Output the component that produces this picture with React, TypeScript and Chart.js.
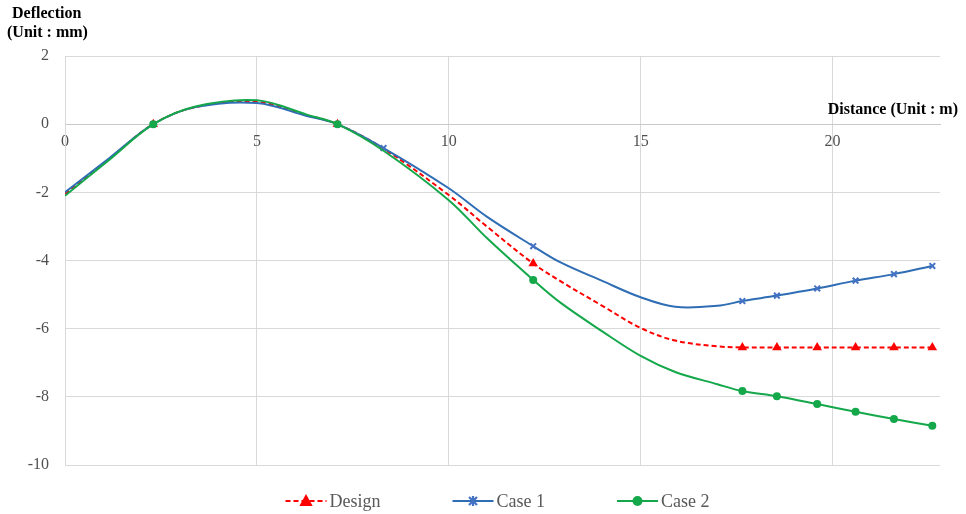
import React, { useEffect, useRef } from "react";
import { Chart, registerables } from "chart.js";

Chart.register(...registerables);

// Distance along the member (m)
const distance = [0, 1.15, 2.3, 3.4, 5.0, 6.3, 7.1, 8.3, 10.0, 11.0, 12.2, 12.9, 14.0, 15.0, 15.9, 17.0, 17.65, 18.55, 19.6, 20.6, 21.6, 22.6];

// Deflection (mm)
const design = [-2.05, -1.02, 0, 0.5, 0.65, 0.26, 0, -0.72, -2.08, -3.01, -4.09, -4.6, -5.33, -5.98, -6.35, -6.52, -6.55, -6.55, -6.55, -6.55, -6.55, -6.55];
const case1 = [-2.0, -1.0, 0, 0.5, 0.62, 0.24, 0, -0.7, -1.88, -2.72, -3.58, -4.05, -4.6, -5.08, -5.36, -5.33, -5.19, -5.03, -4.82, -4.59, -4.4, -4.16];
const case2 = [-2.1, -1.05, 0, 0.52, 0.7, 0.28, 0, -0.78, -2.23, -3.35, -4.57, -5.23, -6.08, -6.8, -7.27, -7.63, -7.83, -7.98, -8.21, -8.44, -8.65, -8.85];

// Distances where a marker is shown
const designMarkers = [2.3, 7.1, 12.2, 17.65, 18.55, 19.6, 20.6, 21.6, 22.6];
const case1Markers = [2.3, 7.1, 8.3, 12.2, 17.65, 18.55, 19.6, 20.6, 21.6, 22.6];
const case2Markers = [2.3, 7.1, 12.2, 17.65, 18.55, 19.6, 20.6, 21.6, 22.6];

const xTicks = [0, 5, 10, 15, 20];
const yTicks = [2, 0, -2, -4, -6, -8, -10];

const seriesNames = ["Design", "Case 1", "Case 2"];

const SERIF = '"Liberation Serif", "Times New Roman", serif';
const RED = "#FF0000";
const BLUE_LINE = "#2F6DB5";
const BLUE_MARK = "#4472C4";
const GREEN = "#14A84B";
const TICK_COLOR = "#505050";

const toPoints = (ys: number[]) => distance.map((x, i) => ({ x, y: ys[i] }));
const radii = (marks: number[], r: number) => distance.map((x) => (marks.includes(x) ? r : 0));

type Marker = "triangle" | "star" | "circle";

function drawMarker(ctx: CanvasRenderingContext2D, style: Marker, x: number, y: number, r: number, color: string) {
  ctx.save();
  ctx.fillStyle = color;
  ctx.strokeStyle = color;
  ctx.setLineDash([]);
  if (style === "triangle") {
    ctx.beginPath();
    ctx.moveTo(x, y - r);
    ctx.lineTo(x + r * 0.95, y + r * 0.7);
    ctx.lineTo(x - r * 0.95, y + r * 0.7);
    ctx.closePath();
    ctx.fill();
  } else if (style === "circle") {
    ctx.beginPath();
    ctx.arc(x, y, r, 0, Math.PI * 2);
    ctx.fill();
  } else {
    ctx.lineWidth = 2.2;
    const d = r * 0.8;
    ctx.beginPath();
    ctx.moveTo(x - d, y - d);
    ctx.lineTo(x + d, y + d);
    ctx.moveTo(x + d, y - d);
    ctx.lineTo(x - d, y + d);
    ctx.moveTo(x, y - r);
    ctx.lineTo(x, y + r);
    ctx.stroke();
  }
  ctx.restore();
}

const legendItems: { name: string; color: string; mark: string; marker: Marker; dash: number[]; r: number }[] = [
  { name: seriesNames[0], color: RED, mark: RED, marker: "triangle", dash: [5, 3], r: 7 },
  { name: seriesNames[1], color: BLUE_LINE, mark: BLUE_MARK, marker: "star", dash: [], r: 5 },
  { name: seriesNames[2], color: GREEN, mark: GREEN, marker: "circle", dash: [], r: 5 },
];

const decorations = {
  id: "decorations",
  afterDraw(chart: Chart) {
    const { ctx, chartArea } = chart;
    ctx.save();
    // Axis titles
    ctx.fillStyle = "#000000";
    ctx.textBaseline = "alphabetic";
    ctx.textAlign = "left";
    ctx.font = `bold 16px ${SERIF}`;
    ctx.fillText("Deflection", 12, 18);
    ctx.fillText("(Unit : mm)", 7, 37);
    ctx.textAlign = "right";
    ctx.fillText("Distance (Unit : m)", chart.width - 8, 114);

    // Legend below the plot
    ctx.font = `18px ${SERIF}`;
    ctx.textAlign = "left";
    const lineLen = 41;
    const gapText = 3;
    const gapItem = 72;
    const widths = legendItems.map((it) => lineLen + gapText + ctx.measureText(it.name).width);
    const total = widths.reduce((a, b) => a + b, 0) + gapItem * (legendItems.length - 1);
    let x = (chartArea.left + chartArea.right) / 2 - total / 2 - 5;
    const cy = 501;
    legendItems.forEach((it, i) => {
      ctx.strokeStyle = it.color;
      ctx.lineWidth = 2;
      ctx.setLineDash(it.dash);
      ctx.beginPath();
      ctx.moveTo(x, cy);
      ctx.lineTo(x + lineLen, cy);
      ctx.stroke();
      ctx.setLineDash([]);
      drawMarker(ctx, it.marker, x + lineLen / 2, cy, it.r, it.mark);
      ctx.fillStyle = "#595959";
      ctx.fillText(it.name, x + lineLen + gapText, 507);
      x += widths[i] + gapItem;
    });
    ctx.restore();
  },
};

export default function App() {
  const canvasRef = useRef<HTMLCanvasElement | null>(null);

  useEffect(() => {
    document.body.style.margin = "0";
    const canvas = canvasRef.current;
    if (!canvas) return;

    const chart = new Chart(canvas, {
      type: "line",
      data: {
        datasets: [
          {
            label: seriesNames[2],
            data: toPoints(case2),
            borderColor: GREEN,
            backgroundColor: GREEN,
            borderWidth: 2,
            pointStyle: "circle",
            pointRadius: radii(case2Markers, 4),
            pointBorderWidth: 0,
            order: 0,
          },
          {
            label: seriesNames[1],
            data: toPoints(case1),
            borderColor: BLUE_LINE,
            backgroundColor: BLUE_MARK,
            pointBorderColor: BLUE_MARK,
            borderWidth: 2,
            pointStyle: "crossRot",
            pointRadius: radii(case1Markers, 4),
            pointBorderWidth: 2,
            order: 1,
          },
          {
            label: seriesNames[0],
            data: toPoints(design),
            borderColor: RED,
            backgroundColor: RED,
            borderWidth: 2,
            borderDash: [5, 3],
            pointStyle: "triangle",
            pointRadius: radii(designMarkers, 5.5),
            pointBorderWidth: 0,
            order: 2,
          },
        ],
      },
      options: {
        responsive: false,
        animation: false,
        layout: { padding: { left: 0, right: 26, top: 56, bottom: 49 } },
        elements: { line: { tension: 0.35, fill: false } },
        plugins: { legend: { display: false }, tooltip: { enabled: false } },
        scales: {
          x: {
            type: "linear",
            position: { y: 0 } as any,
            min: 0,
            max: 22.8,
            afterBuildTicks: (s: any) => {
              s.ticks = xTicks.map((v) => ({ value: v }));
            },
            ticks: {
              color: TICK_COLOR,
              font: { family: SERIF, size: 16 },
              padding: 8,
              maxRotation: 0,
            },
            grid: { color: "#D9D9D9", lineWidth: 1, drawTicks: false },
            border: { display: true, color: "#C9C9C9", width: 1 },
          },
          y: {
            type: "linear",
            min: -10,
            max: 2,
            afterBuildTicks: (s: any) => {
              s.ticks = yTicks.map((v) => ({ value: v }));
            },
            afterFit: (s: any) => {
              s.width = 65;
            },
            ticks: {
              color: TICK_COLOR,
              font: { family: SERIF, size: 16 },
              padding: 16,
            },
            grid: { color: "#D9D9D9", lineWidth: 1, drawTicks: false },
            border: { display: true, color: "#D9D9D9", width: 1 },
          },
        },
      },
      plugins: [decorations],
    });

    return () => chart.destroy();
  }, []);

  return (
    <div style={{ width: 966, height: 514, background: "#ffffff" }}>
      <canvas ref={canvasRef} width={966} height={514} />
    </div>
  );
}
